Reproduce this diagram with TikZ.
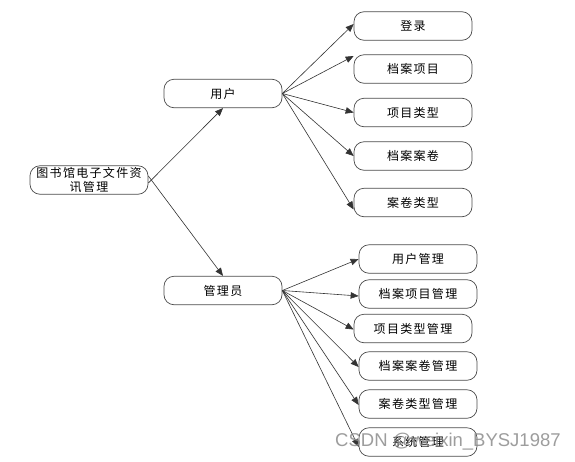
\documentclass[tikz,border=0pt]{standalone}
\usepackage{fontspec}
\newfontfamily\cjk[LetterSpace=11]{Noto Sans CJK SC}
\usetikzlibrary{arrows.meta}
\begin{document}
\begin{tikzpicture}[x=1pt,y=-1pt,
  box/.style={draw=black!70,line width=0.7pt,rounded corners=10pt,minimum width=118pt,minimum height=28.5pt,inner sep=0pt,font=\cjk\fontsize{12}{13.5}\selectfont,align=center,fill=white},
  arr/.style={draw=black!80,line width=0.6pt,-{Triangle[length=8pt,width=6.5pt]}}]
\useasboundingbox (0,0) rectangle (575,461);
\fill[white] (0,0) rectangle (575,461);
\node[box] (root) at (89,180) {图书馆电子文件资\\讯管理};
\node[box] (user) at (223,93.5) {用户};
\node[box] (admin) at (223,290.5) {管理员};
\node[box] (u1) at (413,26) {登录};
\node[box] (u2) at (413,69) {档案项目};
\node[box] (u3) at (413,112.5) {项目类型};
\node[box] (u4) at (413,156) {档案案卷};
\node[box] (u5) at (413,202.5) {案卷类型};
\node[box] (a1) at (418,259) {用户管理};
\node[box] (a2) at (418,294) {档案项目管理};
\node[box] (a3) at (413,328.5) {项目类型管理};
\node[box] (a4) at (418,366) {档案案卷管理};
\node[box] (a5) at (418,404) {案卷类型管理};
\node[box] (a6) at (418,442) {系统管理};
\draw[arr] ([yshift=-3pt]root.east) -- (user.south);
\draw[arr] ([yshift=4pt]root.east) -- (admin.north);
\coordinate (us) at (user.east);
\coordinate (ad) at (admin.east);
\draw[arr] (us) -- ([yshift=2pt]u1.west);
\draw[arr] (us) -- ([yshift=13pt]u2.west);
\draw[arr] (us) -- (u3.west);
\draw[arr] (us) -- (u4.west);
\draw[arr] (us) -- ([yshift=-7pt]u5.west);
\draw[arr] (ad) -- (a1.west);
\draw[arr] (ad) -- ([yshift=-2pt]a2.west);
\draw[arr] (ad) -- ([yshift=-1pt]a3.west);
\draw[arr] (ad) -- ([yshift=-1pt]a4.west);
\draw[arr] (ad) -- ([yshift=-1pt]a5.west);
\draw[arr] (ad) -- ([yshift=-5pt]a6.west);
\node[text=black!45,text opacity=0.85,font=\fontspec{Liberation Sans}\fontsize{18.5}{20}\selectfont,anchor=west,inner sep=0pt] (wm) at (335,442) {CSDN @weixin\_BYSJ1987};
\end{tikzpicture}
\end{document}
